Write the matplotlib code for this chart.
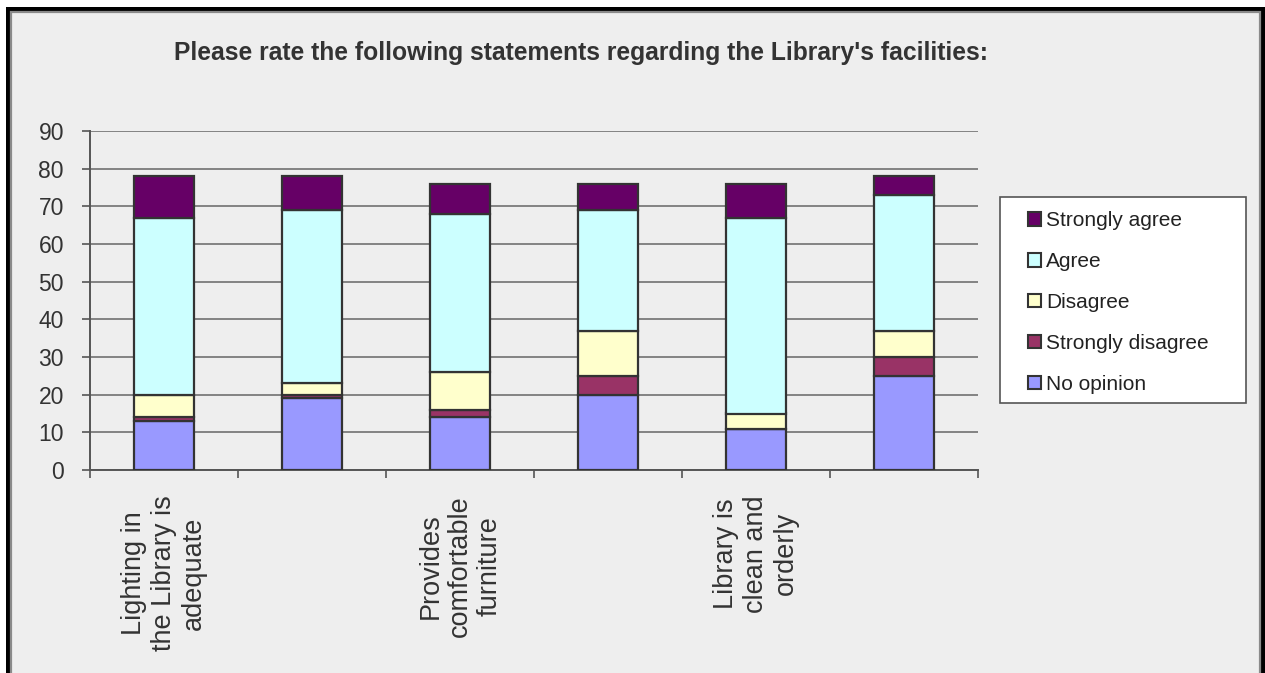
import numpy as np
import matplotlib
matplotlib.use('Agg')
import matplotlib.pyplot as plt
from matplotlib.patches import Rectangle, Patch

plt.rcParams['font.family'] = ['Liberation Sans', 'DejaVu Sans']

categories = ['Lighting in\nthe Library is\nadequate', '',
              'Provides\ncomfortable\nfurniture', '',
              'Library is\nclean and\norderly', '']
no_opinion = [13, 19, 14, 20, 11, 25]
strongly_disagree = [1, 1, 2, 5, 0, 5]
disagree = [6, 3, 10, 12, 4, 7]
agree = [47, 46, 42, 32, 52, 36]
strongly_agree = [11, 9, 8, 7, 9, 5]

series = [('No opinion', no_opinion, '#9999FF'),
          ('Strongly disagree', strongly_disagree, '#993366'),
          ('Disagree', disagree, '#FFFFCC'),
          ('Agree', agree, '#CCFFFF'),
          ('Strongly agree', strongly_agree, '#660066')]

W, H = 1265, 673
fig = plt.figure(figsize=(W/100, H/100), dpi=100)
fig.patch.set_facecolor('white')

# outer frame: white margin, black border, thin grey inner line
fig.add_artist(Rectangle((6/W, -0.1), 1.1, (H-7)/H + 0.1, transform=fig.transFigure,
                         facecolor='black', edgecolor='none', zorder=-3))
fig.add_artist(Rectangle((10.5/W, -0.1), (1260-10.5)/W, (H-11.5)/H + 0.1,
                         transform=fig.transFigure, facecolor='#EEEEEE',
                         edgecolor='#8A8A8A', linewidth=1.6, zorder=-2))

ax = fig.add_axes([90/W, 1-470/H, (978-90)/W, (470-131)/H])
ax.set_facecolor('none')

x = np.arange(len(categories))
bottom = np.zeros(len(categories))
for name, vals, col in series:
    ax.bar(x, vals, width=0.4, bottom=bottom, color=col, edgecolor='#333333',
           linewidth=1.6, zorder=3)
    bottom += np.array(vals)

ax.set_xlim(-0.5, len(categories)-0.5)
ax.set_ylim(0, 90)
ax.set_yticks(np.arange(0, 91, 10))
ax.yaxis.grid(True, color='#707070', linewidth=1.2, zorder=0)
ax.set_axisbelow(True)

for s in ['top', 'right']:
    ax.spines[s].set_visible(False)
for s in ['left', 'bottom']:
    ax.spines[s].set_color('#555555')
    ax.spines[s].set_linewidth(1.4)

ax.set_xticks(np.arange(-0.5, len(categories), 1.0))
ax.set_xticklabels([])
ax.set_xticks(x, minor=True)
ax.set_xticklabels(categories, minor=True, rotation=90, fontsize=19.5,
                   color='#333333', multialignment='center', linespacing=1.18)
ax.tick_params(axis='x', which='major', direction='out', length=5.8, width=1.2,
               color='#555555')
ax.tick_params(axis='x', which='minor', length=0, pad=18)
ax.tick_params(axis='y', direction='out', length=5.8, width=1.2, color='#555555',
               labelsize=16.5, labelcolor='#333333', pad=13)

fig.text(581/W, 1-53/H, "Please rate the following statements regarding the Library's facilities:",
         ha='center', va='center', fontsize=17.7, fontweight='bold', color='#333333')

# legend box
fig.add_artist(Rectangle((1000/W, 1-403/H), 246/W, 206/H, transform=fig.transFigure,
                         facecolor='white', edgecolor='#555555', linewidth=1.2, zorder=1))
handles = [Patch(facecolor=col, edgecolor='#333333', linewidth=1.5, label=name)
           for name, vals, col in series[::-1]]
leg = fig.legend(handles=handles, loc='upper left', bbox_to_anchor=(1022/W, 1-205/H),
                 frameon=False, fontsize=15, labelspacing=1.05, handlelength=0.62,
                 handleheight=0.62, handletextpad=0.25, borderpad=0.3, borderaxespad=0)
for t in leg.get_texts():
    t.set_color('#222222')
leg.set_zorder(2)

fig.savefig('out.png', dpi=100, facecolor=fig.get_facecolor())
